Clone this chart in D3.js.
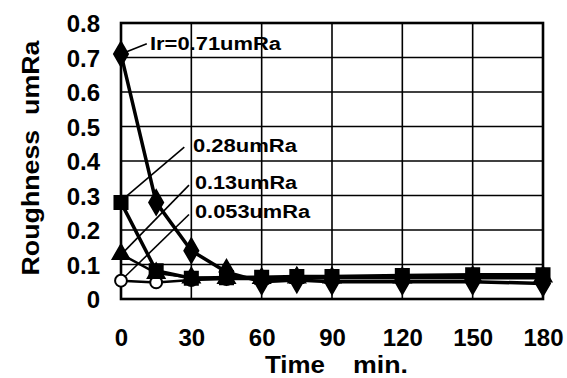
<!DOCTYPE html>
<html><head><meta charset="utf-8">
<script src="https://cdn.jsdelivr.net/npm/d3@7"></script>
<style>body{margin:0;background:#fff}svg{display:block}text{font-family:"Liberation Sans",Arial,sans-serif;fill:#000}</style>
</head><body>
<script>
const times = [0, 15, 30, 45, 60, 75, 90, 120, 150, 180];
const xTicks = [0, 30, 60, 90, 120, 150, 180];
const yTicks = [0, 0.1, 0.2, 0.3, 0.4, 0.5, 0.6, 0.7, 0.8];
const yTickLabels = ["0", "0.1", "0.2", "0.3", "0.4", "0.5", "0.6", "0.7", "0.8"];
const s071 = [0.71, 0.28, 0.14, 0.078, 0.05, 0.055, 0.05, 0.05, 0.05, 0.045];
const s028 = [0.28, 0.082, 0.06, 0.062, 0.063, 0.065, 0.065, 0.068, 0.07, 0.07];
const s013 = [0.13, 0.075, 0.062, 0.06, 0.06, 0.062, 0.062, 0.062, 0.065, 0.065];
const s0053 = [0.053, 0.048, 0.055, 0.058, 0.058, 0.06, 0.06, 0.06, 0.06, 0.06];
const labels = ["Ir=0.71umRa", "0.28umRa", "0.13umRa", "0.053umRa"];
const xTitleParts = ["Time", "min."];

const W = 567, H = 378;
const svg = d3.select("body").append("svg").attr("width", W).attr("height", H);
const x = d3.scaleLinear().domain([0, 180]).range([121, 543]);
const y = d3.scaleLinear().domain([0, 0.8]).range([299, 23]);

// grid
const g = svg.append("g");
g.selectAll(".gy").data(yTicks).join("line")
  .attr("x1", x(0)).attr("x2", x(180)).attr("y1", d => y(d)).attr("y2", d => y(d))
  .attr("stroke", "#000").attr("stroke-width", 1.6);
g.selectAll(".gx").data(xTicks).join("line")
  .attr("y1", y(0)).attr("y2", y(0.8)).attr("x1", d => x(d)).attr("x2", d => x(d))
  .attr("stroke", "#000").attr("stroke-width", 1.6);
svg.append("rect").attr("x", x(0)).attr("y", y(0.8)).attr("width", x(180) - x(0)).attr("height", y(0) - y(0.8))
  .attr("fill", "none").attr("stroke", "#000").attr("stroke-width", 2.6);

// axes tick labels
const yAxis = d3.axisLeft(y).tickValues(yTicks).tickFormat((d, i) => yTickLabels[i]).tickSize(0).tickPadding(21);
const ya = svg.append("g").attr("transform", `translate(${x(0)},0)`).call(yAxis);
ya.select(".domain").remove();
ya.selectAll("text").style("font-size", "24px").style("font-weight", "bold")
  .style("font-family", '"Liberation Sans",Arial,sans-serif').attr("dy", "0.36em");

const xAxis = d3.axisBottom(x).tickValues(xTicks).tickFormat(d3.format("d")).tickSize(0).tickPadding(30);
const xa = svg.append("g").attr("transform", `translate(0,${y(0)})`).call(xAxis);
xa.select(".domain").remove();
xa.selectAll("text").style("font-size", "24px").style("font-weight", "600")
  .style("font-family", '"Liberation Sans",Arial,sans-serif');

const xtPos = [[265, 60], [353, 55]];
svg.append("g").selectAll("text").data(xTitleParts).join("text")
  .attr("x", (d, i) => xtPos[i][0]).attr("y", 373)
  .attr("textLength", (d, i) => xtPos[i][1]).attr("lengthAdjust", "spacingAndGlyphs")
  .style("font-size", "24px").style("font-weight", "600").text(d => d);
svg.append("text").attr("transform", "translate(39,158) rotate(-90)").attr("text-anchor", "middle")
  .style("font-size", "24px").style("font-weight", "600").attr("xml:space", "preserve")
  .attr("textLength", 235).attr("lengthAdjust", "spacingAndGlyphs").text("Roughness  umRa");

// leader lines
const leaders = [
  [[0, 0.71], [11, 0.74]],
  [[1, 0.29], [27, 0.44]],
  [[1, 0.135], [29, 0.33]],
  [[1, 0.06], [29, 0.245]]
];
svg.append("g").selectAll("line").data(leaders).join("line")
  .attr("x1", d => x(d[0][0])).attr("y1", d => y(d[0][1]))
  .attr("x2", d => x(d[1][0])).attr("y2", d => y(d[1][1]))
  .attr("stroke", "#000").attr("stroke-width", 1.6);

// series lines
const line = d3.line().x((d, i) => x(times[i])).y(d => y(d));
const series = [
  {v: s0053, w: 2.5, sym: d3.symbolCircle, size: 110, fill: "#fff"},
  {v: s013, w: 2.5, sym: d3.symbolTriangle, size: 120, fill: "#000"},
  {v: s028, w: 3.5, sym: d3.symbolSquare, size: 170, fill: "#000"},
  {v: s071, w: 3.5, sym: d3.symbolDiamond, size: 170, fill: "#000"}
];
series.forEach(s => {
  svg.append("path").datum(s.v).attr("d", line).attr("fill", "none")
    .attr("stroke", "#000").attr("stroke-width", s.w);
});
series.forEach(s => {
  svg.append("g").selectAll("path").data(s.v).join("path")
    .attr("transform", (d, i) => `translate(${x(times[i])},${y(d)})`)
    .attr("d", d3.symbol().type(s.sym).size(s.size))
    .attr("fill", s.fill).attr("stroke", "#000").attr("stroke-width", 2);
});

// labels
const labelPos = [[150, 50], [193, 152], [195, 189], [195, 218]];
const labelLen = [131, 104, 102, 115];
svg.append("g").selectAll("text").data(labels).join("text")
  .attr("x", (d, i) => labelPos[i][0]).attr("y", (d, i) => labelPos[i][1])
  .attr("textLength", (d, i) => labelLen[i]).attr("lengthAdjust", "spacingAndGlyphs")
  .style("font-size", "18px").style("font-weight", "bold").text(d => d);
</script>
</body></html>
